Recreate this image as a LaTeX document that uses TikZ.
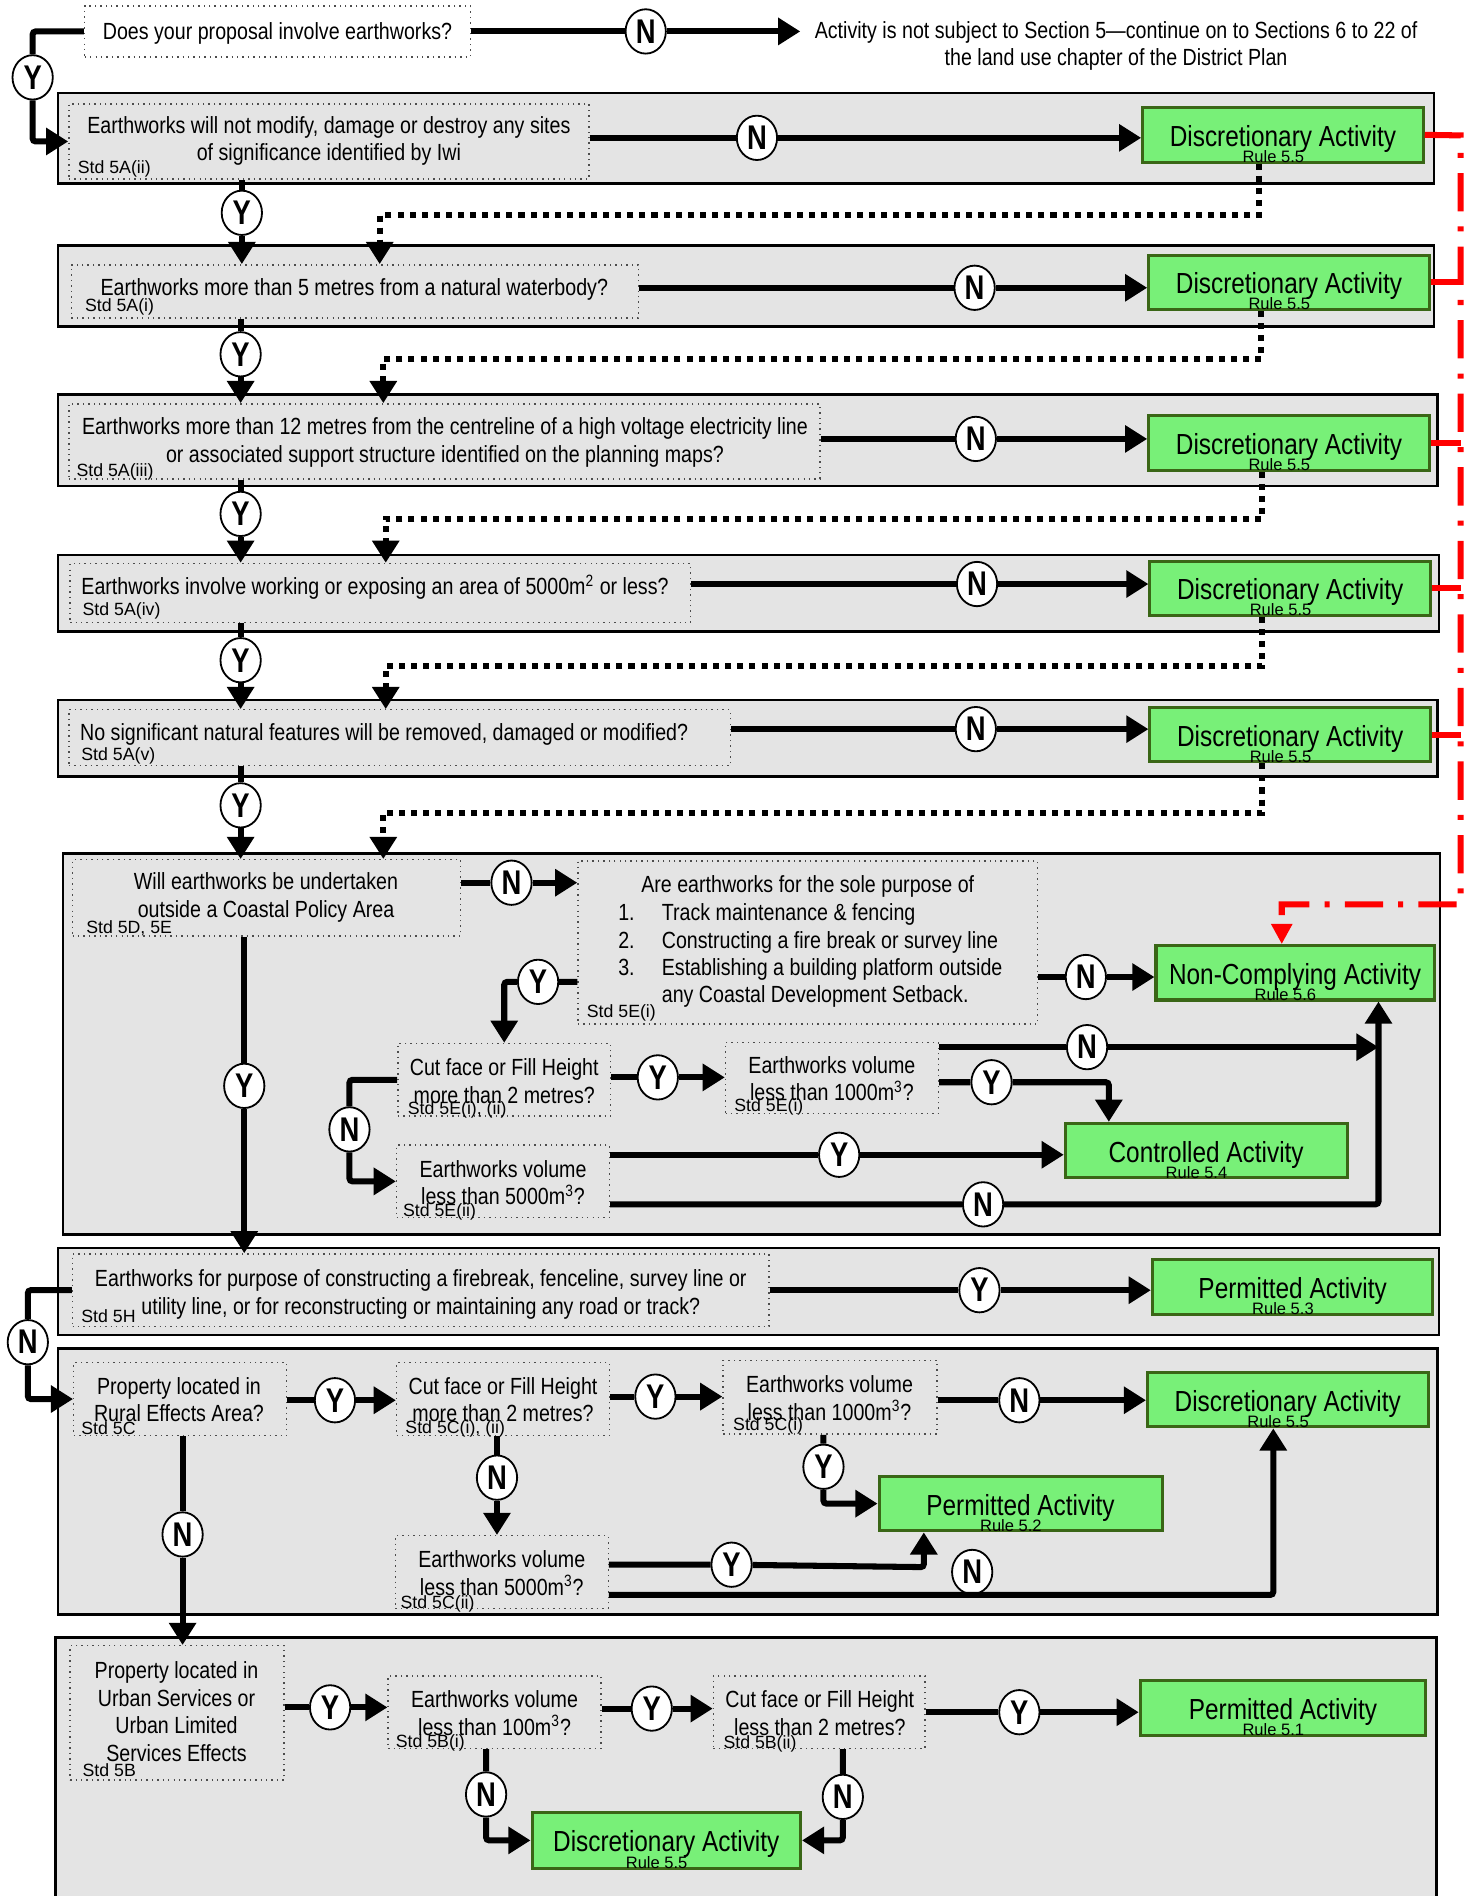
\documentclass[tikz,border=0pt]{standalone}
\usepackage{fontspec}
\setmainfont{Liberation Sans}[FakeStretch=0.84]
\newfontfamily\plainf{Liberation Sans}
\newfontfamily\ynfam{Liberation Sans}[FakeStretch=0.8]
\usetikzlibrary{arrows.meta,shapes.geometric,fit}
\definecolor{bandgray}{RGB}{228,228,228}
\definecolor{actgreen}{RGB}{120,240,120}
\definecolor{actborder}{RGB}{58,102,22}
\definecolor{redline}{RGB}{255,0,0}
\newcommand\qfont{\fontsize{11.6}{13.8}\selectfont}
\newcommand\actfont{\fontsize{14.4}{16}\selectfont}
\newcommand\smallfont{\plainf\fontsize{8.2}{9}\selectfont}
\newcommand\stdfont{\plainf\fontsize{8.8}{9}\selectfont}
\newcommand\ynfont{\ynfam\bfseries\fontsize{17}{17}\selectfont}
\newcommand\actlabels[3]{%
  \node[acttitle] (#1t) at ([yshift=-2.2pt]#1.center) {#2};
  \node[actrule] (#1r) at ([xshift=-4.8pt,yshift=3.6pt]#1.south) {#3};}
\tikzset{
  band/.style={draw=black, line width=1.3pt, fill=bandgray, inner sep=0pt},
  qbox/.style={draw=black!70, dotted, line width=0.7pt, inner sep=0pt},
  gbox/.style={draw=actborder, line width=1.5pt, fill=actgreen, inner sep=0pt},
  yn/.style={ellipse, draw=black, line width=0.9pt, fill=white, minimum width=20pt, minimum height=22pt, inner sep=0pt, font=\ynfont},
  qtext/.style={inner sep=0pt, align=center, font=\qfont, yshift=-1.2pt},
  qline/.style={inner sep=0pt, font=\qfont, text height=8.5pt, text depth=2.5pt, yshift=-1.2pt},
  acttitle/.style={inner sep=0pt, font=\actfont, text height=10pt, text depth=3pt},
  actrule/.style={inner sep=0pt, font=\smallfont, text height=6pt, text depth=0pt},
  stdl/.style={inner sep=0pt, anchor=west, font=\stdfont, text height=6.2pt, text depth=1.8pt, yshift=-1pt},
  conn/.style={draw=black, line width=3pt, rounded corners=1.5pt},
  arr/.style={-{Triangle[length=11pt,width=13pt]}},
  dotc/.style={draw=black, line width=3pt, dash pattern=on 3pt off 3pt},
  redc/.style={draw=redline, line width=3pt, dash pattern=on 19pt off 7.5pt on 2.5pt off 7.5pt},
  rarr/.style={-{Triangle[length=10pt,width=10pt]}}
}
\begin{document}
\begin{tikzpicture}[x=0.6pt,y=-0.6pt]
\useasboundingbox (0,0) rectangle (1217,1568);
% bands
\node[band, fit={(48,77) (1186,152)}] (b1) {};
\node[band, fit={(48,203) (1186,270)}] (b2) {};
\node[band, fit={(48,326) (1189,402)}] (b3) {};
\node[band, fit={(48,459) (1190,522)}] (b4) {};
\node[band, fit={(48,579) (1189,642)}] (b5) {};
\node[band, fit={(52,706) (1191,1021)}] (b6) {};
\node[band, fit={(48,1032) (1190,1104)}] (b7) {};
\node[band, fit={(48,1115) (1189,1335)}] (b8) {};
\node[band, fit={(46,1354) (1188,1590)}] (b9) {};
% question boxes
\node[qbox, fill=white, fit={(70,5) (389,47)}] (q0) {};
\node[qbox, fit={(57,86) (487,148)}] (q1) {};
\node[qbox, fit={(59,219) (528,263)}] (q2) {};
\node[qbox, fit={(57,334) (678,396)}] (q3) {};
\node[qbox, fit={(58,466) (571,515)}] (q4) {};
\node[qbox, fit={(57,587) (604,633)}] (q5) {};
\node[qbox, fit={(60,711) (381,774)}] (q6) {};
\node[qbox, fit={(478,712) (858,847)}] (q7) {};
\node[qbox, fit={(329,863) (505,923)}] (q8) {};
\node[qbox, fit={(600,862) (776,921)}] (q9) {};
\node[qbox, fit={(328,947) (504,1007)}] (q10) {};
\node[qbox, fit={(60,1037) (636,1097)}] (q11) {};
\node[qbox, fit={(61,1127) (237,1187)}] (q12) {};
\node[qbox, fit={(328,1127) (504,1187)}] (q13) {};
\node[qbox, fit={(598,1125) (775,1186)}] (q14) {};
\node[qbox, fit={(327,1270) (503,1330)}] (q15) {};
\node[qbox, fit={(58,1361) (235,1472)}] (q16) {};
\node[qbox, fit={(321,1386) (497,1446)}] (q17) {};
\node[qbox, fit={(590,1386) (765,1446)}] (q18) {};
% activity boxes
\node[gbox, fit={(945,89) (1177,134)}] (g1) {};
\node[gbox, fit={(950,211) (1182,256)}] (g2) {};
\node[gbox, fit={(950,344) (1182,389)}] (g3) {};
\node[gbox, fit={(951,464) (1183,509)}] (g4) {};
\node[gbox, fit={(951,585) (1183,630)}] (g5) {};
\node[gbox, fit={(956,782) (1186,827)}] (g6) {};
\node[gbox, fit={(881,929) (1114,974)}] (g7) {};
\node[gbox, fit={(953,1042) (1185,1087)}] (g8) {};
\node[gbox, fit={(949,1135) (1181,1180)}] (g9) {};
\node[gbox, fit={(727,1221) (961,1266)}] (g10) {};
\node[gbox, fit={(943,1390) (1179,1435)}] (g11) {};
\node[gbox, fit={(440,1499) (662,1545)}] (g12) {};
\actlabels{g1}{Discretionary Activity}{Rule 5.5}
\actlabels{g2}{Discretionary Activity}{Rule 5.5}
\actlabels{g3}{Discretionary Activity}{Rule 5.5}
\actlabels{g4}{Discretionary Activity}{Rule 5.5}
\actlabels{g5}{Discretionary Activity}{Rule 5.5}
\actlabels{g6}{Non-Complying Activity}{Rule 5.6}
\actlabels{g7}{Controlled Activity}{Rule 5.4}
\actlabels{g8}{Permitted Activity}{Rule 5.3}
\actlabels{g9}{Discretionary Activity}{Rule 5.5}
\actlabels{g10}{Permitted Activity}{Rule 5.2}
\actlabels{g11}{Permitted Activity}{Rule 5.1}
\actlabels{g12}{Discretionary Activity}{Rule 5.5}
% question texts
\node[qline] (q0t) at (q0.center) {Does your proposal involve earthworks?};
\node[qtext, inner sep=7pt] (note) at (923,36) {Activity is not subject to Section 5—continue on to Sections 6 to 22 of\\the land use chapter of the District Plan};
\node[qtext] (q1t) at (272,114.5) {Earthworks will not modify, damage or destroy any sites\\of significance identified by Iwi};
\node[qline] (q2t) at (293,237) {Earthworks more than 5 metres from a natural waterbody?};
\node[qtext] (q3t) at (368,364) {Earthworks more than 12 metres from the centreline of a high voltage electricity line\\or associated support structure identified on the planning maps?};
\node[qline, anchor=west] (q4t) at (67,485) {Earthworks involve working or exposing an area of 5000m\textsuperscript{2} or less?};
\node[qline, anchor=west] (q5t) at (66,605) {No significant natural features will be removed, damaged or modified?};
\node[qtext] (q6t) at (220,740.5) {Will earthworks be undertaken\\outside a Coastal Policy Area};
\node[qline] (q7t) at (668,731) {Are earthworks for the sole purpose of};
\node[qline, anchor=west] (q7n1) at (511,754) {1.};
\node[qline, anchor=west] (q7a) at (547,754) {Track maintenance \& fencing};
\node[qline, anchor=west] (q7n2) at (511,777) {2.};
\node[qline, anchor=west] (q7b) at (547,777) {Constructing a fire break or survey line};
\node[qline, anchor=west] (q7n3) at (511,800) {3.};
\node[qline, anchor=west] (q7c) at (547,800) {Establishing a building platform outside};
\node[qline, anchor=west] (q7d) at (547,822) {any Coastal Development Setback.};
\node[qtext] (q8t) at (417,892) {Cut face or Fill Height\\more than 2 metres?};
\node[qtext] (q9t) at (688,890) {Earthworks volume\\less than 1000m\textsuperscript{3}?};
\node[qtext] (q10t) at (416,976) {Earthworks volume\\less than 5000m\textsuperscript{3}?};
\node[qtext] (q11t) at (348,1068.5) {Earthworks for purpose of constructing a firebreak, fenceline, survey line or\\utility line, or for reconstructing or maintaining any road or track?};
\node[qtext] (q12t) at (148,1155.5) {Property located in\\Rural Effects Area?};
\node[qtext] (q13t) at (416,1155.5) {Cut face or Fill Height\\more than 2 metres?};
\node[qtext] (q14t) at (686,1154) {Earthworks volume\\less than 1000m\textsuperscript{3}?};
\node[qtext] (q15t) at (415,1299) {Earthworks volume\\less than 5000m\textsuperscript{3}?};
\node[qtext] (q16t) at (146,1413.5) {Property located in\\Urban Services or\\Urban Limited\\Services Effects};
\node[qtext] (q17t) at (409,1415) {Earthworks volume\\less than 100m\textsuperscript{3}?};
\node[qtext] (q18t) at (678,1415) {Cut face or Fill Height\\less than 2 metres?};
% standard labels
\node[stdl] (q1s) at (64,138) {Std 5A(ii)};
\node[stdl] (q2s) at (70,252) {Std 5A(i)};
\node[stdl] (q3s) at (63,389) {Std 5A(iii)};
\node[stdl] (q4s) at (68,504) {Std 5A(iv)};
\node[stdl] (q5s) at (67,624) {Std 5A(v)};
\node[stdl] (q6s) at (71,767) {Std 5D, 5E};
\node[stdl] (q7s) at (485,836) {Std 5E(i)};
\node[stdl] (q8s) at (337,916) {Std 5E(i), (ii)};
\node[stdl] (q9s) at (607,914) {Std 5E(i)};
\node[stdl] (q10s) at (333,1001) {Std 5E(ii)};
\node[stdl] (q11s) at (67,1088) {Std 5H};
\node[stdl] (q12s) at (67,1181) {Std 5C};
\node[stdl] (q13s) at (335,1180) {Std 5C(i), (ii)};
\node[stdl] (q14s) at (606,1178) {Std 5C(i)};
\node[stdl] (q15s) at (331,1325) {Std 5C(ii)};
\node[stdl] (q16s) at (68,1464) {Std 5B};
\node[stdl] (q17s) at (327,1440) {Std 5B(i)};
\node[stdl] (q18s) at (598,1441) {Std 5B(ii)};
% Y / N markers
\node[yn] (n0) at (534,26) {N};
\node[yn] (y0) at (27,64) {Y};
\node[yn] (n1) at (626,114) {N};
\node[yn] (y1) at (200,176) {Y};
\node[yn] (n2) at (806,238) {N};
\node[yn] (y2) at (199,293) {Y};
\node[yn] (n3) at (807,363) {N};
\node[yn] (y3) at (199,425) {Y};
\node[yn] (n4) at (808,483) {N};
\node[yn] (y4) at (199,546) {Y};
\node[yn] (n5) at (807,603) {N};
\node[yn] (y5) at (199,666) {Y};
\node[yn] (n6) at (423,730) {N};
\node[yn] (y6) at (445,812) {Y};
\node[yn] (n7) at (898,808) {N};
\node[yn] (y7) at (202,898) {Y};
\node[yn] (y8) at (544,891) {Y};
\node[yn] (n8) at (899,866) {N};
\node[yn] (y9) at (820,895) {Y};
\node[yn] (n9) at (289,934) {N};
\node[yn] (y10) at (694,955) {Y};
\node[yn] (n10) at (813,996) {N};
\node[yn] (y11) at (810,1067) {Y};
\node[yn] (n11) at (23,1110) {N};
\node[yn] (y12) at (277,1158) {Y};
\node[yn] (y13) at (542,1155) {Y};
\node[yn] (n12) at (843,1158) {N};
\node[yn] (n13) at (411,1222) {N};
\node[yn] (y14) at (681,1213) {Y};
\node[yn] (n14) at (151,1269) {N};
\node[yn] (y15) at (605,1294) {Y};
\node[yn] (n15) at (804,1300) {N};
\node[yn] (y16) at (273,1412) {Y};
\node[yn] (y17) at (539,1413) {Y};
\node[yn] (y18) at (843,1416) {Y};
\node[yn] (n16) at (402,1484) {N};
\node[yn] (n17) at (697,1486) {N};
% helper coordinates
\coordinate (d1a) at (1041,178); \coordinate (d1b) at (314,178);
\coordinate (d2a) at (1043,297); \coordinate (d2b) at (317,297);
\coordinate (d3a) at (1044,429); \coordinate (d3b) at (319,429);
\coordinate (d4a) at (1044,551); \coordinate (d4b) at (319,551);
\coordinate (d5a) at (1044,672); \coordinate (d5b) at (317,672);
\coordinate (j1) at (1140,866);
\coordinate (j2) at (917,895);
\coordinate (j3) at (1140,996);
\coordinate (j4) at (764,1296);
\coordinate (j5) at (1053,1319);
\coordinate (r1) at (1208,112);
\coordinate (r2) at (1208,748);
\coordinate (r3) at (1060,748);
% connectors: top
\draw[conn] (q0.east) -- (n0);
\draw[conn,arr] (n0) -- (note.west |- n0);
\draw[conn] (q0.west) -| (y0);
\draw[conn,arr] (y0) |- (q1.west);
% section 5A chain
\draw[conn,arr] (q1.east |- n1) -- (n1) -- (g1.west |- n1);
\draw[conn,arr] (y1 |- q1.south) -- (y1) -- (y1 |- q2.north);
\draw[conn,arr] (q2.east |- n2) -- (n2) -- (g2.west |- n2);
\draw[conn,arr] (y2 |- q2.south) -- (y2) -- (y2 |- q3.north);
\draw[conn,arr] (q3.east |- n3) -- (n3) -- (g3.west |- n3);
\draw[conn,arr] (y3 |- q3.south) -- (y3) -- (y3 |- q4.north);
\draw[conn,arr] (q4.east |- n4) -- (n4) -- (g4.west |- n4);
\draw[conn,arr] (y4 |- q4.south) -- (y4) -- (y4 |- q5.north);
\draw[conn,arr] (q5.east |- n5) -- (n5) -- (g5.west |- n5);
\draw[conn,arr] (y5 |- q5.south) -- (y5) -- (y5 |- q6.north);
% dotted returns
\draw[dotc,arr] (g1.south -| d1a) -- (d1a) -- (d1b) -- (d1b |- q2.north);
\draw[dotc,arr] (g2.south -| d2a) -- (d2a) -- (d2b) -- (d2b |- q3.north);
\draw[dotc,arr] (g3.south -| d3a) -- (d3a) -- (d3b) -- (d3b |- q4.north);
\draw[dotc,arr] (g4.south -| d4a) -- (d4a) -- (d4b) -- (d4b |- q5.north);
\draw[dotc,arr] (g5.south -| d5a) -- (d5a) -- (d5b) -- (d5b |- q6.north);
% coastal section
\draw[conn,arr] (q6.east |- n6) -- (n6) -- (q7.west |- n6);
\draw[conn,arr] (q7.west |- y6) -- (y6) -| (q8.north);
\draw[conn,arr] (q7.east |- n7) -- (n7) -- (g6.west |- n7);
\draw[conn,arr] (y7 |- q6.south) -- (y7) -- (y7 |- q11.north);
\draw[conn,arr] (q8.east |- y8) -- (y8) -- (q9.west |- y8);
\draw[conn] (q8.west) -| (n9);
\draw[conn,arr] (n9) |- (q10.west);
\draw[conn,arr] (q9.east |- n8) -- (n8) -- (j1);
\draw[conn,arr] (q9.east |- y9) -- (y9) -- (j2) -- (j2 |- g7.north);
\draw[conn,arr] (q10.east |- y10) -- (y10) -- (g7.west |- y10);
\draw[conn,arr] (q10.east |- n10) -- (n10) -- (j3) -- (j3 |- g6.south);
% 5H
\draw[conn,arr] (q11.east |- y11) -- (y11) -- (g8.west |- y11);
\draw[conn] (q11.west) -| (n11);
\draw[conn,arr] (n11) |- (q12.west);
% rural
\draw[conn,arr] (q12.east |- y12) -- (y12) -- (q13.west |- y12);
\draw[conn,arr] (q13.east |- y13) -- (y13) -- (q14.west |- y13);
\draw[conn,arr] (q14.east |- n12) -- (n12) -- (g9.west |- n12);
\draw[conn,arr] (y14 |- q14.south) -- (y14) |- (g10.west);
\draw[conn,arr] (n13 |- q13.south) -- (n13) -- (n13 |- q15.north);
\draw[conn,arr] (q15.east |- y15) -- (y15) -- (j4) -- (j4 |- g10.south);
\draw[conn,arr] (q15.east |- j5) -- (j5) -- (j5 |- g9.south);
\draw[conn,arr] (n14 |- q12.south) -- (n14) -- (n14 |- q16.north);
% urban
\draw[conn,arr] (q16.east |- y16) -- (y16) -- (q17.west |- y16);
\draw[conn,arr] (q17.east |- y17) -- (y17) -- (q18.west |- y17);
\draw[conn,arr] (q18.east |- y18) -- (y18) -- (g11.west |- y18);
\draw[conn,arr] (n16 |- q17.south) -- (n16) |- (g12.west);
\draw[conn,arr] (n17 |- q18.south) -- (n17) |- (g12.east);
% red dash-dot link
\draw[redc,rarr] (g1.east) -- (r1) -- (r2) -- (r3) -- (r3 |- g6.north);
\draw[redc] (g2.east) -- (g2.east -| r1);
\draw[redc] (g3.east) -- (g3.east -| r1);
\draw[redc] (g4.east) -- (g4.east -| r1);
\draw[redc] (g5.east) -- (g5.east -| r1);
\end{tikzpicture}
\end{document}
